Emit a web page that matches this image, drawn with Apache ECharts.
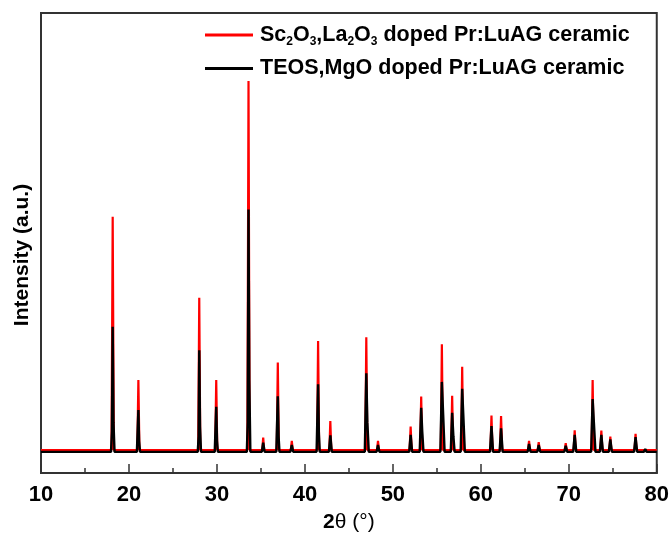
<!DOCTYPE html>
<html>
<head>
<meta charset="utf-8">
<script src="https://cdn.jsdelivr.net/npm/echarts@6/dist/echarts.min.js"></script>
<style>
  html, body { margin: 0; padding: 0; background: #fff; }
  #chart { width: 672px; height: 538px; }
</style>
</head>
<body>
<div id="chart"></div>
<script>
// XRD patterns of two Pr:LuAG ceramics, 2θ (deg) vs intensity (a.u.)
const xTicks = [10, 20, 30, 40, 50, 60, 70, 80];

const seriesNames = [
  'Sc2O3,La2O3 doped Pr:LuAG ceramic',
  'TEOS,MgO doped Pr:LuAG ceramic'
];

// Sc2O3,La2O3 doped sample
const scLaPattern = [
  [10, 50],
  [18.02, 50], [18.15, 557], [18.28, 50],
  [20.95, 50], [21.07, 202], [21.19, 50],
  [27.87, 50], [27.99, 381], [28.11, 50],
  [29.80, 50], [29.92, 202], [30.04, 50],
  [33.46, 50], [33.59, 852], [33.72, 50],
  [35.15, 50], [35.26, 77], [35.37, 50],
  [36.80, 50], [36.92, 240], [37.04, 50],
  [38.40, 50], [38.51, 70], [38.62, 50],
  [41.38, 50], [41.50, 287], [41.62, 50],
  [42.78, 50], [42.89, 113], [43.00, 50],
  [46.86, 50], [46.98, 295], [47.10, 50],
  [48.20, 50], [48.31, 70], [48.42, 50],
  [51.90, 50], [52.02, 101], [52.14, 50],
  [53.10, 50], [53.22, 166], [53.34, 50],
  [55.45, 50], [55.57, 280], [55.69, 50],
  [56.62, 50], [56.74, 168], [56.86, 50],
  [57.76, 50], [57.88, 231], [58.00, 50],
  [61.09, 50], [61.21, 125], [61.33, 50],
  [62.18, 50], [62.30, 124], [62.42, 50],
  [65.37, 50], [65.48, 70], [65.59, 50],
  [66.47, 50], [66.58, 67], [66.69, 50],
  [69.54, 50], [69.65, 65], [69.76, 50],
  [70.55, 50], [70.67, 93], [70.79, 50],
  [72.59, 50], [72.71, 202], [72.83, 50],
  [73.58, 50], [73.70, 92], [73.82, 50],
  [74.60, 50], [74.72, 79], [74.84, 50],
  [75.56, 50], [75.66, 53], [75.76, 50],
  [77.47, 50], [77.59, 85], [77.71, 50],
  [78.59, 50], [78.69, 54], [78.79, 50],
  [79.53, 50], [79.63, 52], [79.73, 50],
  [80, 50]
];

// TEOS,MgO doped sample
const teosMgoPattern = [
  [10, 46],
  [17.96, 46], [18.06, 90], [18.15, 318], [18.24, 110], [18.36, 46],
  [20.90, 46], [21.07, 137], [21.15, 70], [21.26, 46],
  [27.82, 46], [27.92, 80], [27.99, 267], [28.08, 100], [28.19, 46],
  [29.75, 46], [29.92, 144], [30.01, 70], [30.11, 46],
  [33.40, 46], [33.50, 110], [33.59, 573], [33.68, 200], [33.80, 46],
  [35.10, 46], [35.26, 66], [35.42, 46],
  [36.75, 46], [36.92, 167], [37.01, 80], [37.11, 46],
  [38.35, 46], [38.51, 61], [38.67, 46],
  [41.33, 46], [41.50, 193], [41.59, 85], [41.69, 46],
  [42.73, 46], [42.89, 82], [43.06, 46],
  [46.81, 46], [46.98, 217], [47.10, 110], [47.26, 46],
  [48.15, 46], [48.31, 61], [48.47, 46],
  [51.86, 46], [52.02, 83], [52.19, 46],
  [53.05, 46], [53.22, 142], [53.34, 90], [53.48, 46],
  [55.40, 46], [55.57, 198], [55.72, 126], [55.88, 46],
  [56.58, 46], [56.74, 131], [56.88, 80], [57.02, 46],
  [57.71, 46], [57.88, 183], [58.02, 120], [58.18, 46],
  [61.04, 46], [61.21, 102], [61.39, 46],
  [62.13, 46], [62.30, 97], [62.48, 46],
  [65.32, 46], [65.48, 63], [65.65, 46],
  [66.42, 46], [66.58, 61], [66.75, 46],
  [69.49, 46], [69.65, 59], [69.82, 46],
  [70.50, 46], [70.67, 83], [70.85, 46],
  [72.54, 46], [72.71, 161], [72.86, 107], [73.03, 46],
  [73.53, 46], [73.70, 83], [73.88, 46],
  [74.55, 46], [74.72, 73], [74.90, 46],
  [75.50, 46], [75.66, 50], [75.82, 46],
  [77.42, 46], [77.59, 78], [77.77, 46],
  [78.53, 46], [78.69, 52], [78.85, 46],
  [79.47, 46], [79.63, 50], [79.79, 46],
  [80, 46]
];

const FONT = "'Liberation Sans', Arial, sans-serif";

// legend labels with chemical subscripts
const legendRich = {
  '0': '{m|Sc}{s|2}{m|O}{s|3}{m|,La}{s|2}{m|O}{s|3}{m| doped Pr:LuAG ceramic}',
  '1': '{m|TEOS,MgO doped Pr:LuAG ceramic}'
};

const chart = echarts.init(document.getElementById('chart'), null, { renderer: 'canvas' });

chart.setOption({
  animation: false,
  backgroundColor: '#ffffff',
  grid: {
    left: 41, right: 14, top: 13, bottom: 65,
    show: true, borderColor: '#333', borderWidth: 2, backgroundColor: 'transparent'
  },
  legend: {
    orient: 'vertical',
    left: 200, top: 19,
    itemWidth: 48, itemHeight: 3, itemGap: 10,
    icon: 'rect',
    data: seriesNames,
    formatter: name => legendRich[String(seriesNames.indexOf(name))],
    textStyle: {
      padding: [0, 0, 0, 2],
      rich: {
        m: { fontFamily: FONT, fontSize: 21.5, fontWeight: 'bold', color: '#000' },
        s: { fontFamily: FONT, fontSize: 12, fontWeight: 'bold', color: '#000', padding: [13, 0, 0, 0] }
      }
    }
  },
  xAxis: {
    type: 'value',
    min: xTicks[0], max: xTicks[xTicks.length - 1], interval: 10,
    name: '{b|2}{t|θ (°)}',
    nameLocation: 'middle',
    nameGap: 39,
    nameTextStyle: {
      rich: {
        b: { fontFamily: FONT, fontSize: 21, fontWeight: 'bold', color: '#000' },
        t: { fontFamily: FONT, fontSize: 21, fontWeight: 'normal', color: '#000' }
      }
    },
    axisLine: { show: true, lineStyle: { color: '#333', width: 2 } },
    axisTick: { show: true, inside: true, length: 9, lineStyle: { color: '#333', width: 1.5 } },
    minorTick: { show: true, splitNumber: 2, length: 5, lineStyle: { color: '#333', width: 1.5 } },
    axisLabel: { margin: 11, fontFamily: FONT, fontSize: 22, fontWeight: 'bold', color: '#000' },
    splitLine: { show: false }
  },
  yAxis: {
    type: 'value',
    min: 0, max: 1000,
    name: 'Intensity (a.u.)',
    nameLocation: 'middle',
    nameGap: 8,
    nameTextStyle: {
      fontFamily: FONT, fontSize: 21, fontWeight: 'bold', color: '#000',
      padding: [0, 24, 0, 0]
    },
    axisLine: { show: true, lineStyle: { color: '#333', width: 2 } },
    axisTick: { show: false },
    axisLabel: { show: false },
    splitLine: { show: false }
  },
  series: [
    {
      name: seriesNames[0],
      type: 'line',
      data: scLaPattern,
      symbol: 'none',
      sampling: 'none',
      color: '#ff0000',
      lineStyle: { color: '#ff0000', width: 2.2 },
      z: 2
    },
    {
      name: seriesNames[1],
      type: 'line',
      data: teosMgoPattern,
      symbol: 'none',
      sampling: 'none',
      color: '#000000',
      lineStyle: { color: '#000000', width: 2.4 },
      z: 3
    }
  ]
});
</script>
</body>
</html>
